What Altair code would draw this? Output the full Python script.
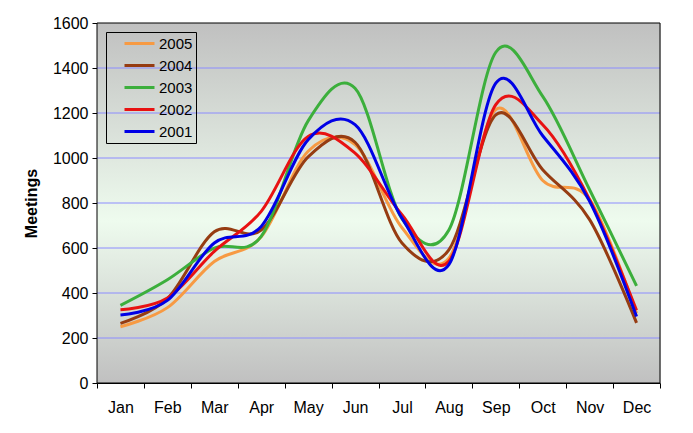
import altair as alt
import pandas as pd

months = ["Jan", "Feb", "Mar", "Apr", "May", "Jun", "Jul", "Aug", "Sep", "Oct", "Nov", "Dec"]
years = ["2005", "2004", "2003", "2002", "2001"]
colors = ["#F79A43", "#963C12", "#3CAF3C", "#E81212", "#0000E6"]

v2005 = [250, 335, 540, 650, 1030, 1060, 690, 555, 1215, 900, 815, 310]
v2004 = [265, 375, 672, 680, 1005, 1070, 622, 592, 1192, 948, 726, 267]
v2003 = [345, 459, 600, 652, 1165, 1310, 730, 680, 1470, 1274, 859, 432]
v2002 = [326, 378, 585, 763, 1096, 1022, 748, 541, 1237, 1148, 815, 323]
v2001 = [302, 367, 622, 696, 1081, 1148, 733, 526, 1333, 1099, 807, 296]

y_ticks = [0, 200, 400, 600, 800, 1000, 1200, 1400, 1600]
gridlines = [200, 400, 600, 800, 1000, 1200, 1400]

series = {"2005": v2005, "2004": v2004, "2003": v2003, "2002": v2002, "2001": v2001}
rows = []
for yr in years:
    for i, m in enumerate(months):
        rows.append({"year": yr, "month": m, "x": i + 0.5, "value": series[yr][i], "order": i})
df = pd.DataFrame(rows)

W, H = 563, 360
xscale = alt.Scale(domain=[0, 12], nice=False, zero=False)
yscale = alt.Scale(domain=[0, 1600], nice=False)

frame_df = pd.DataFrame({"x0": [0], "x1": [12], "y0": [0], "y1": [1600]})
grid_df = pd.DataFrame({"g": gridlines})

month_expr = "[" + ",".join("'%s'" % m for m in months) + "]"
x_axis = alt.Axis(
    values=list(range(13)), grid=False, title=None, tickSize=5, tickColor="black",
    domainColor="black", labelExpr=f"datum.value < 12 ? {month_expr}[datum.value] : ''",
    labelOffset=W / 24, labelPadding=11, labelFontSize=16, labelColor="black",
    labelFont="Liberation Sans", labelAngle=0, labelFlush=False, labelOverlap=False,
)
y_axis = alt.Axis(
    values=y_ticks, grid=False, title="Meetings", tickSize=5, tickColor="black", format="d",
    domainColor="black", labelFontSize=16, labelColor="black", labelFont="Liberation Sans",
    labelPadding=4, titleFont="Liberation Sans", titleFontSize=16, titleFontWeight="bold",
    titleColor="black", titleX=-66, titleY=H / 2, titleBaseline="middle", titleAlign="center",
    labelFlush=False,
)

bg = alt.Chart(frame_df).mark_rect(
    fill=alt.LinearGradient(
        gradient="linear", x1=0, x2=0, y1=0, y2=1,
        stops=[
            alt.GradientStop(color="#c0c0c0", offset=0),
            alt.GradientStop(color="#eefbee", offset=0.55),
            alt.GradientStop(color="#c0c0c0", offset=1),
        ],
    ),
    strokeWidth=0,
).encode(
    x=alt.X("x0:Q", scale=xscale, axis=x_axis),
    x2="x1:Q",
    y=alt.Y("y0:Q", scale=yscale, axis=y_axis),
    y2="y1:Q",
)

grid = alt.Chart(grid_df).mark_rule(color="#8c8cff", strokeWidth=1).encode(
    y=alt.Y("g:Q", scale=yscale)
)

lines = alt.Chart(df).mark_line(interpolate="cardinal", strokeWidth=3).encode(
    x=alt.X("x:Q", scale=xscale),
    y=alt.Y("value:Q", scale=yscale),
    color=alt.Color(
        "year:N",
        scale=alt.Scale(domain=years, range=colors),
        sort=years,
        legend=alt.Legend(
            title=None, orient="none", legendX=9, legendY=9,
            symbolType="M-2.143,0H2.143", symbolSize=196, symbolStrokeWidth=3,
            labelFontSize=15, labelFont="Liberation Sans", labelColor="black",
            strokeColor="black", padding=3, rowPadding=5, labelOffset=11,
            symbolOffset=22,
        ),
    ),
    order="order:Q",
)

frame = alt.Chart(frame_df).mark_rect(filled=False, stroke="black", strokeWidth=1).encode(
    x=alt.X("x0:Q", scale=xscale), x2="x1:Q",
    y=alt.Y("y0:Q", scale=yscale), y2="y1:Q",
)

chart = alt.layer(bg, grid, lines, frame).properties(
    width=W, height=H,
    autosize=alt.AutoSizeParams(type="none"),
    padding={"left": 89, "top": 15, "right": 25, "bottom": 42},
).configure_view(stroke=None).configure(background="white")

chart.save("out.html", embed_options={"renderer": "svg", "actions": False})
